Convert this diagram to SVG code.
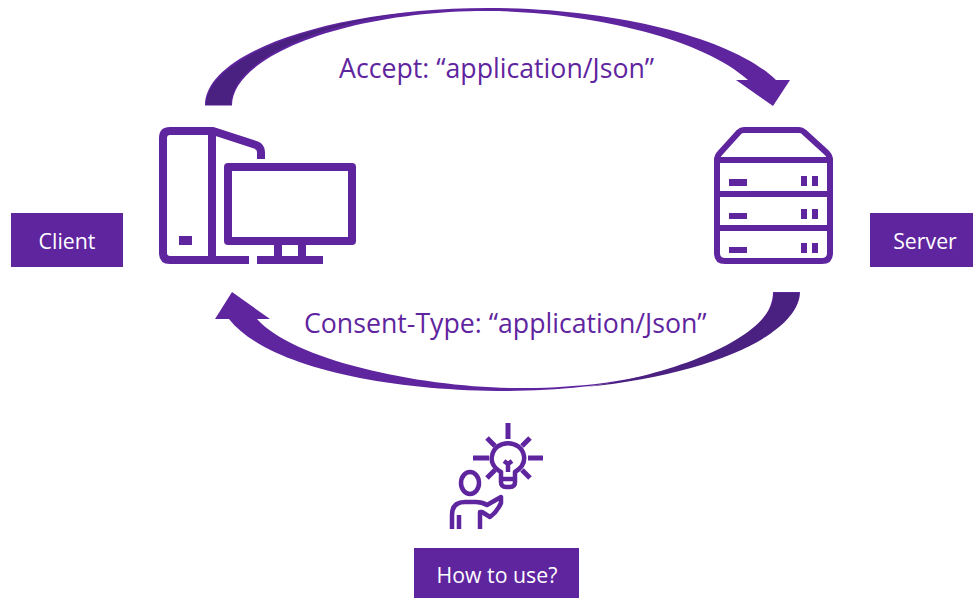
<svg xmlns="http://www.w3.org/2000/svg" width="973" height="598" viewBox="0 0 973 598">
<style>
.main{fill:#5f259f}
.dark{fill:#4a2180}
.ln{fill:none;stroke:#5f259f;stroke-width:8;stroke-linejoin:round}
.s{stroke-width:6}
.t{stroke-width:4.500}
.r{stroke-width:5}
.lab{font-family:"Open Sans","DejaVu Sans",sans-serif;font-size:26.700px;fill:#5f259f}
.box{font-family:"Open Sans","DejaVu Sans",sans-serif;font-size:21.300px;fill:#fff;text-anchor:middle}
</style>
<g id="connectors">
<path class="main" d="M205 105.500C205 50 340 8 487 8C620 8 735 40 776 80L790 80L773 106L736 80L748 80C700 36 580 11 487 11C350 11 232 55 232 105.500Z"/>
<path class="dark" d="M206 105C206 65 290 25 420 11C320 22 231 60 231 105Z"/>
<path class="main" d="M800 292C800 345 650 391 507 391C380 391 265 365 229 319L215 319L232 292L270 319L257 319C295 362 430 389 525 388C660 388 773 345 773 292Z"/>
<path class="dark" d="M799 293C799 333 715 374 585 387C680 374 774 335 774 293Z"/>
</g>
<g id="label-accept"><text class="lab" x="339" y="78">Accept: “application/Json”</text></g>
<g id="label-consent"><text class="lab" x="304" y="333">Consent-Type: “application/Json”</text></g>
<g id="client-icon">
<path class="ln" d="M249 260H170Q163 260 163 253V138Q163 131 170 131H213L256 145Q261 147 261 152V159"/>
<path class="ln" d="M212 131V260"/>
<rect class="main" x="179" y="236" width="13" height="9"/>
<rect class="ln" x="228" y="167" width="124" height="74"/>
<path class="ln" d="M278 245V260M302 245V260M257 260H323"/>
</g>
<g id="client"><rect class="main" x="11" y="213" width="112" height="54"/><text class="box" x="67" y="249">Client</text></g>
<g id="server-icon">
<path class="ln s" d="M744 130H799Q802 130 804 132L827 153Q830 156 830 160V253Q830 261 822 261H725Q717 261 717 253V160Q717 156 720 153L739 132Q741 130 744 130Z"/>
<path class="ln s" d="M717 160H830M717 194H830M717 228H830"/>
<rect class="main" x="729" y="179" width="18" height="7"/>
<rect class="main" x="729" y="213" width="18" height="6"/>
<rect class="main" x="729" y="247" width="18" height="6"/>
<path class="ln s" d="M804 176V186M815 176V186M804 209V219M815 209V219M804 243V253M815 243V253"/>
</g>
<g id="server"><rect class="main" x="870" y="213" width="103" height="54"/><text class="box" x="925" y="249">Server</text></g>
<g id="how-icon">
<path class="ln r" d="M508 423V439M473 458H489M528 458H543M487 438L495 446M530 438L522 446M487 478L495 470M530 478L522 470"/>
<path class="ln t" d="M501 477V472C492 467 491 460 492 456C495 439 521 439 524 456C525 462 523 467 515 472V482Q515 487 510 487H506Q501 487 501 482ZM501 479H515"/>
<path class="ln t" d="M504 461L508 464L512 461M508 464V472"/>
<ellipse class="ln t" cx="470" cy="483" rx="9" ry="11"/>
<path class="ln t" d="M452 529V515Q452 502 465 502H476Q482 502 487 505L501 497V503Q497 512 490 517L482 512H480V529M459 515V529"/>
</g>
<g id="how"><rect class="main" x="414" y="548" width="165" height="50"/><text class="box" x="497" y="583">How to use?</text></g>
</svg>
